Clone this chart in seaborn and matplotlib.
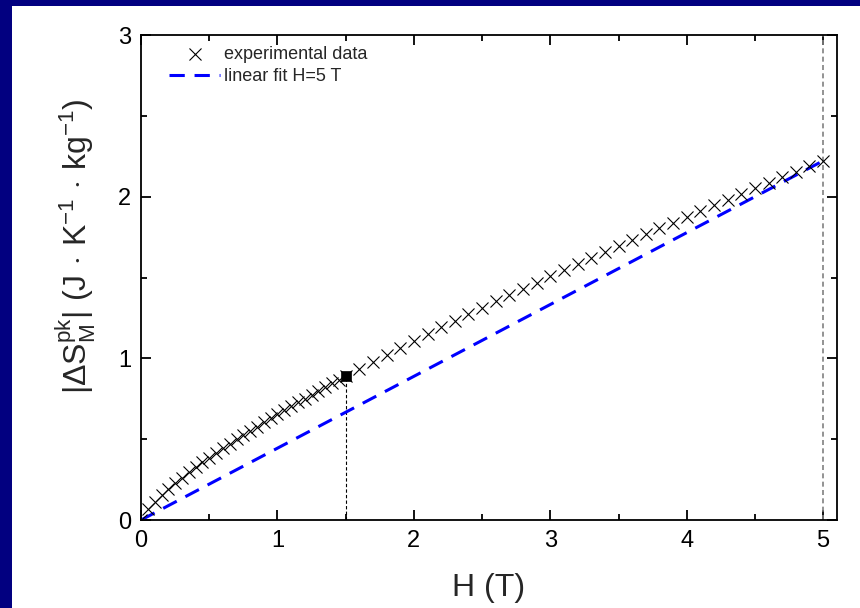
import numpy as np
import pandas as pd
import matplotlib
matplotlib.use("Agg")
import matplotlib.pyplot as plt
import seaborn as sns
from matplotlib.patches import Rectangle

# ---- data ----
H_exp = [0.00, 0.05, 0.10, 0.15, 0.20, 0.25, 0.30, 0.35, 0.40, 0.45, 0.50,
         0.55, 0.60, 0.65, 0.70, 0.75, 0.80, 0.85, 0.90, 0.95, 1.00,
         1.05, 1.10, 1.15, 1.20, 1.25, 1.30, 1.35, 1.40, 1.45, 1.50,
         1.6, 1.7, 1.8, 1.9, 2.0, 2.1, 2.2, 2.3, 2.4, 2.5,
         2.6, 2.7, 2.8, 2.9, 3.0, 3.1, 3.2, 3.3, 3.4, 3.5,
         3.6, 3.7, 3.8, 3.9, 4.0, 4.1, 4.2, 4.3, 4.4, 4.5,
         4.6, 4.7, 4.8, 4.9, 5.0]
dS_exp = [0.000, 0.067, 0.114, 0.155, 0.192, 0.228, 0.262, 0.294, 0.326, 0.356, 0.386,
          0.415, 0.444, 0.472, 0.499, 0.525, 0.552, 0.578, 0.604, 0.629, 0.654,
          0.679, 0.703, 0.727, 0.751, 0.775, 0.798, 0.822, 0.845, 0.867, 0.890,
          0.935, 0.979, 1.022, 1.065, 1.108, 1.149, 1.191, 1.232, 1.272, 1.312,
          1.352, 1.391, 1.430, 1.469, 1.507, 1.545, 1.583, 1.621, 1.658, 1.695,
          1.731, 1.768, 1.804, 1.840, 1.876, 1.911, 1.946, 1.981, 2.016, 2.051,
          2.086, 2.120, 2.154, 2.188, 2.222]
H_fit = [0.0, 5.0]
dS_fit = [0.0, 2.222]
H_mark = [1.5]
dS_mark = [0.890]
x_ticks = [0, 1, 2, 3, 4, 5]
y_ticks = [0, 1, 2, 3]

df_exp = pd.DataFrame({"H": H_exp, "dS": dS_exp})
df_fit = pd.DataFrame({"H": H_fit, "dS": dS_fit})
df_mark = pd.DataFrame({"H": H_mark, "dS": dS_mark})

sns.set_theme(style="ticks")
plt.rcParams["font.family"] = ["Liberation Sans", "DejaVu Sans"]
plt.rcParams["mathtext.fontset"] = "custom"
plt.rcParams["mathtext.rm"] = "Liberation Sans"
plt.rcParams["mathtext.it"] = "Liberation Sans"
plt.rcParams["mathtext.bf"] = "Liberation Sans:bold"

fig = plt.figure(figsize=(8.6, 6.08), dpi=100, facecolor="white")
ax = fig.add_axes([0.164, 0.1447, 0.809, 0.7977])

navy = "#020080"
fig.patches.append(Rectangle((0, 0), 12 / 860, 1, transform=fig.transFigure,
                             facecolor=navy, edgecolor="none", zorder=-10))
fig.patches.append(Rectangle((0, 1 - 6 / 608), 1, 6 / 608, transform=fig.transFigure,
                             facecolor=navy, edgecolor="none", zorder=-10))

# reference lines
ax.vlines(H_mark[0], 0, dS_mark[0], colors="black", linestyles=(0, (3, 2)),
          linewidth=0.8, zorder=1)
ax.vlines(H_fit[1], 0, 3, colors="#808080", linestyles=(0, (3, 2)),
          linewidth=1.2, zorder=1)

sns.lineplot(data=df_fit, x="H", y="dS", ax=ax, color="#0000FF",
             linewidth=2.2, dashes=False, label="linear fit H=5 T", zorder=2)
ax.lines[-1].set_linestyle((0, (5, 3.2)))

sns.scatterplot(data=df_exp, x="H", y="dS", ax=ax, marker="x", color="black",
                s=75, linewidth=0.8, label="experimental data", zorder=3)
sns.scatterplot(data=df_mark, x="H", y="dS", ax=ax, marker="s", color="black",
                s=45, edgecolor="black", linewidth=0.5, zorder=4, legend=False)

ax.set_xlim(0, 5.1)
ax.set_ylim(0, 3)
ax.set_xticks(x_ticks)
ax.set_yticks(y_ticks)
ax.set_xticks(np.arange(0.5, 5.1, 1.0), minor=True)
ax.set_yticks(np.arange(0.5, 3.0, 1.0), minor=True)
ax.tick_params(which="both", direction="in", top=True, right=True,
               width=1.3, colors="black", labelsize=17, pad=7)
ax.tick_params(which="major", length=7)
ax.tick_params(which="minor", length=4.5)
for sp in ax.spines.values():
    sp.set_linewidth(1.3)
    sp.set_color("black")

ax.set_xlabel("H (T)", fontsize=23, labelpad=15)
ax.set_ylabel(r"$|\Delta \mathrm{S}_\mathrm{M}^\mathrm{pk}|$ (J$\,\cdot\,$K$^{-1}\,\cdot\,$kg$^{-1}$)",
              fontsize=23)
ax.yaxis.set_label_coords(-0.062, 0.565)

h, l = ax.get_legend_handles_labels()
order = [l.index("experimental data"), l.index("linear fit H=5 T")]
ax.legend([h[i] for i in order], [l[i] for i in order], loc="upper left",
          frameon=False, fontsize=13, handlelength=2.8, handletextpad=0.25,
          borderaxespad=0.2, labelspacing=0.3, bbox_to_anchor=(0.025, 1.0))

ax.set_facecolor("white")
fig.savefig("out.png", dpi=100, facecolor="white")
